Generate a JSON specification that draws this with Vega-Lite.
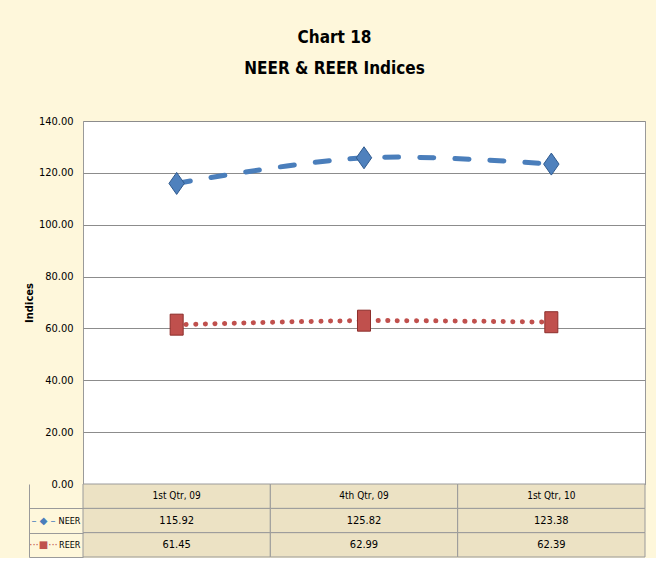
{
  "$schema": "https://vega.github.io/schema/vega-lite/v6.json",
  "background": "#FEF7DB",
  "padding": {"left": 23, "top": 28, "right": 10, "bottom": 0},
  "bounds": "flush",
  "title": {
    "text": ["Chart 18", "NEER & REER Indices"],
    "anchor": "middle",
    "font": "DejaVu Sans Condensed, sans-serif",
    "fontSize": 17,
    "fontWeight": "bold",
    "lineHeight": 31,
    "offset": 37,
    "color": "#000000"
  },
  "data": {
    "values": [
      {"quarter": "1st Qtr, 09", "series": "NEER", "value": 115.92},
      {"quarter": "4th Qtr, 09", "series": "NEER", "value": 125.82},
      {"quarter": "1st Qtr, 10", "series": "NEER", "value": 123.38},
      {"quarter": "1st Qtr, 09", "series": "REER", "value": 61.45},
      {"quarter": "4th Qtr, 09", "series": "REER", "value": 62.99},
      {"quarter": "1st Qtr, 10", "series": "REER", "value": 62.39}
    ]
  },
  "spacing": 0,
  "vconcat": [
    {
      "width": 562,
      "height": 363,
      "view": {"fill": "#FFFFFF", "stroke": "#9A9A9A"},
      "encoding": {
        "x": {"field": "quarter", "type": "ordinal", "sort": ["1st Qtr, 09", "4th Qtr, 09", "1st Qtr, 10"], "axis": null},
        "y": {
          "field": "value", "type": "quantitative",
          "scale": {"domain": [0, 140], "nice": false},
          "axis": {
            "values": [0, 20, 40, 60, 80, 100, 120, 140],
            "format": ".2f",
            "title": "Indices",
            "titleFont": "DejaVu Sans",
            "titleFontSize": 10,
            "titleFontWeight": "bold",
            "titleColor": "#000000",
            "titlePadding": 9,
            "labelFont": "DejaVu Sans Condensed, sans-serif",
            "labelFontSize": 11,
            "labelColor": "#000000",
            "labelPadding": 10,
            "ticks": false,
            "domain": false,
            "minExtent": 40,
            "maxExtent": 40,
            "grid": true,
            "gridColor": "#8C8C8C",
            "gridWidth": 1
          }
        }
      },
      "layer": [
        {
          "mark": {"type": "line", "interpolate": "catmull-rom", "strokeWidth": 5, "strokeCap": "round"},
          "encoding": {
            "color": {"field": "series", "type": "nominal", "scale": {"domain": ["NEER", "REER"], "range": ["#4A7EBB", "#C0504D"]}, "legend": null},
            "strokeDash": {"field": "series", "type": "nominal", "scale": {"domain": ["NEER", "REER"], "range": [[14, 21], [0.1, 9.5]]}, "legend": null}
          }
        },
        {
          "mark": {"type": "point", "filled": true, "opacity": 1, "strokeWidth": 1},
          "encoding": {
            "shape": {"field": "series", "type": "nominal", "scale": {"domain": ["NEER", "REER"], "range": ["M0,-1L0.7,0L0,1L-0.7,0Z", "M-0.62,-1L0.62,-1L0.62,1L-0.62,1Z"]}, "legend": null},
            "size": {"field": "series", "type": "nominal", "scale": {"domain": ["NEER", "REER"], "range": [484, 441]}, "legend": null},
            "fill": {"field": "series", "type": "nominal", "scale": {"domain": ["NEER", "REER"], "range": ["#4F81BD", "#C0504D"]}, "legend": null},
            "stroke": {"field": "series", "type": "nominal", "scale": {"domain": ["NEER", "REER"], "range": ["#2F5A8E", "#8C2E2B"]}, "legend": null}
          }
        }
      ]
    },
    {
      "width": 562,
      "height": 73,
      "view": {"stroke": null},
      "resolve": {"scale": {"y": "independent"}, "axis": {"y": "independent"}},
      "layer": [
        {
          "encoding": {
            "x": {"field": "quarter", "type": "ordinal", "sort": ["1st Qtr, 09", "4th Qtr, 09", "1st Qtr, 10"], "axis": null}
          },
          "layer": [
            {
              "mark": {"type": "rect", "fill": "#ECE2C4", "stroke": "#9A9A9A", "strokeWidth": 1},
              "encoding": {
                "y": {
                  "field": "series", "type": "nominal",
                  "scale": {"domain": ["Qtr", "NEER", "REER"]},
                  "axis": {
                    "orient": "left",
                    "title": null,
                    "domain": false,
                    "ticks": true,
                    "tickBand": "extent",
                    "tickSize": 54,
                    "tickColor": {"condition": {"test": "!!datum.extra", "value": "transparent"}, "value": "#9A9A9A"},
                    "labelExpr": "datum.value === 'Qtr' ? '' : datum.value",
                    "labelPadding": -51,
                    "labelFont": "DejaVu Sans Condensed, sans-serif",
                    "labelFontSize": 9,
                    "labelColor": "#000000"
                  }
                }
              }
            },
            {
              "transform": [{"filter": "datum.series === 'NEER'"}],
              "mark": {"type": "rect", "fill": "#ECE2C4", "stroke": "#9A9A9A", "strokeWidth": 1},
              "encoding": {"y": {"datum": "Qtr", "type": "nominal"}}
            },
            {
              "mark": {"type": "text", "fontSize": 11, "font": "DejaVu Sans Condensed, sans-serif", "color": "#000000"},
              "encoding": {
                "y": {"field": "series", "type": "nominal"},
                "text": {"field": "value", "type": "quantitative", "format": ".2f"}
              }
            },
            {
              "transform": [{"filter": "datum.series === 'NEER'"}],
              "mark": {"type": "text", "fontSize": 10, "font": "DejaVu Sans Condensed, sans-serif", "color": "#000000"},
              "encoding": {
                "y": {"datum": "Qtr", "type": "nominal"},
                "text": {"field": "quarter", "type": "nominal"}
              }
            }
          ]
        },
        {
          "mark": {"type": "text"},
          "encoding": {
            "text": {"value": ""},
            "y": {
              "field": "series", "type": "nominal",
              "scale": {"domain": ["Qtr", "NEER", "REER"]},
              "axis": {
                "orient": "left",
                "offset": 54,
                "title": null,
                "domain": true,
                "domainColor": "#9A9A9A",
                "ticks": false,
                "labelExpr": "datum.value === 'NEER' ? '– ◆ –' : (datum.value === 'REER' ? '···■···' : '')",
                "labelColor": {"condition": {"test": "datum.value === 'NEER'", "value": "#4A7EBB"}, "value": "#C0504D"},
                "labelAlign": "center",
                "labelPadding": -14,
                "labelFont": "DejaVu Sans",
                "labelFontSize": 10
              }
            }
          }
        }
      ]
    }
  ]
}
